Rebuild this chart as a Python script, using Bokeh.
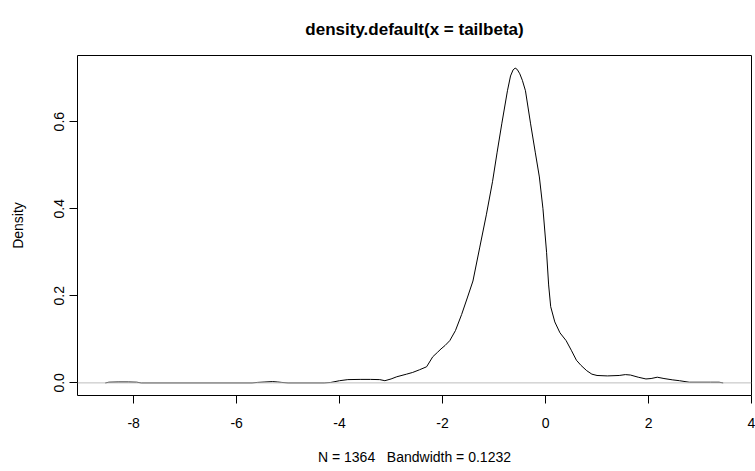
from bokeh.plotting import figure
from bokeh.models import FixedTicker, Span, Range1d
from bokeh.embed import file_html
from bokeh.resources import INLINE

# ---- data ----
dens_x = [-8.55, -8.48, -8.3, -8.1, -7.94, -7.85,
          -5.7, -5.6, -5.45, -5.3, -5.2, -5.12, -5.0,
          -4.3, -4.17, -4.0, -3.84, -3.6, -3.4, -3.22, -3.12, -3.0, -2.89, -2.7, -2.58,
          -2.45, -2.31, -2.19, -2.1, -2.03, -1.95, -1.86, -1.75, -1.63, -1.52, -1.41,
          -1.28, -1.15, -1.03, -0.94, -0.85, -0.74, -0.68, -0.63, -0.59, -0.55, -0.50, -0.45,
          -0.39, -0.29, -0.20, -0.12, -0.05, 0.02, 0.06, 0.10, 0.18, 0.28, 0.40, 0.5, 0.6,
          0.69, 0.8, 0.9, 1.0, 1.2, 1.43, 1.55, 1.65, 1.8, 1.95, 2.05, 2.17, 2.3, 2.46,
          2.6, 2.79, 3.0, 3.2, 3.37, 3.45]
dens_y = [0.0, 0.0015, 0.002, 0.002, 0.0015, 0.0,
          0.0, 0.001, 0.002, 0.003, 0.002, 0.001, 0.0,
          0.0, 0.001, 0.005, 0.0075, 0.008, 0.008, 0.0075, 0.005, 0.009, 0.014, 0.020, 0.024,
          0.030, 0.037, 0.060, 0.070, 0.078, 0.086, 0.097, 0.120, 0.157, 0.195, 0.234,
          0.310, 0.386, 0.462, 0.530, 0.595, 0.671, 0.705, 0.719, 0.723, 0.720, 0.710, 0.695,
          0.671, 0.595, 0.530, 0.473, 0.400, 0.300, 0.225, 0.175, 0.140, 0.115, 0.097, 0.075, 0.052,
          0.040, 0.028, 0.020, 0.017, 0.016, 0.017, 0.019, 0.018, 0.013, 0.009, 0.010, 0.013, 0.010, 0.007,
          0.005, 0.0015, 0.0015, 0.0015, 0.0015, 0.0]

xtick_vals = [-8, -6, -4, -2, 0, 2, 4]
xtick_labels = ["-8", "-6", "-4", "-2", "0", "2", "4"]
ytick_vals = [0.0, 0.2, 0.4, 0.6]
ytick_labels = ["0.0", "0.2", "0.4", "0.6"]

title_text = "density.default(x = tailbeta)"
x_label = "N = 1364\u00a0\u00a0 Bandwidth = 0.1232"
y_label = "Density"

FONT = "Liberation Sans"

p = figure(width=755, height=471, output_backend="svg", toolbar_location=None,
           x_range=Range1d(-9.09, 4.0), y_range=Range1d(-0.029, 0.752),
           min_border_left=77, min_border_right=4, min_border_top=53, min_border_bottom=76,
           title=title_text)

p.background_fill_color = "white"
p.border_fill_color = "white"
p.outline_line_color = "black"
p.outline_line_width = 1
p.grid.visible = False

p.title.text_font = FONT
p.title.text_font_size = "17px"
p.title.text_font_style = "bold"
p.title.align = "center"
p.title.text_color = "black"
p.title.standoff = 34

p.line(dens_x, dens_y, line_color="black", line_width=1)

p.add_layout(Span(location=0, dimension="width", line_color="#BEBEBE", line_width=1))

for ax in (p.xaxis[0], p.yaxis[0]):
    ax.axis_line_color = None
    ax.major_tick_out = 8
    ax.major_tick_in = 0
    ax.minor_tick_line_color = None
    ax.major_tick_line_color = "black"
    ax.major_label_text_font = FONT
    ax.major_label_text_font_size = "14px"
    ax.major_label_text_color = "black"
    ax.axis_label_text_font = FONT
    ax.axis_label_text_font_size = "14px"
    ax.axis_label_text_font_style = "normal"
    ax.axis_label_text_color = "black"

p.xaxis[0].ticker = FixedTicker(ticks=xtick_vals)
p.xaxis[0].major_label_overrides = dict(zip(xtick_vals, xtick_labels))
p.xaxis[0].axis_label = x_label
p.xaxis[0].major_label_standoff = 14
p.xaxis[0].axis_label_standoff = 18

p.yaxis[0].ticker = FixedTicker(ticks=ytick_vals)
p.yaxis[0].major_label_overrides = dict(zip(ytick_vals, ytick_labels))
p.yaxis[0].axis_label = y_label
p.yaxis[0].major_label_orientation = "vertical"
p.yaxis[0].major_label_standoff = 5
p.yaxis[0].axis_label_standoff = 26

open("out.html", "w").write(file_html(p, INLINE))
